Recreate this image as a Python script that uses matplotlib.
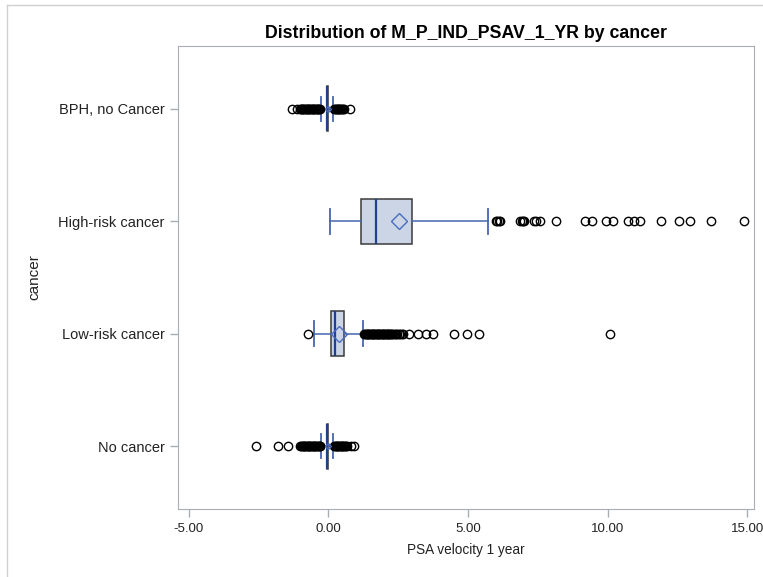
import matplotlib.pyplot as plt
from matplotlib.lines import Line2D

plt.rcParams['font.family'] = ['Liberation Sans', 'DejaVu Sans']

# categories, bottom to top
groups = ["No cancer", "Low-risk cancer", "High-risk cancer", "BPH, no Cancer"]

# summary stats
q1 = [-0.05, 0.10, 1.15, -0.05]
med = [-0.04, 0.25, 1.72, -0.04]
q3 = [-0.03, 0.57, 3.01, -0.03]
whislo = [-0.25, -0.50, 0.04, -0.25]
whishi = [0.17, 1.25, 5.73, 0.18]
means = [-0.03, 0.39, 2.54, -0.03]

fliers_no = [-2.58, -1.80, -1.46, -1.02, -0.98, -0.95, -0.92, -0.89, -0.86, -0.83,
             -0.80, -0.77, -0.74, -0.71, -0.68, -0.65, -0.62, -0.59, -0.56, -0.53,
             -0.50, -0.47, -0.44, -0.41, -0.38, -0.35, -0.32, -0.29,
             0.20, 0.23, 0.26, 0.29, 0.32, 0.35, 0.38, 0.41, 0.44, 0.47, 0.50,
             0.53, 0.56, 0.59, 0.62, 0.66, 0.80, 0.93]
fliers_low = [-0.75,
              1.28, 1.31, 1.34, 1.37, 1.40, 1.43, 1.46, 1.49, 1.52, 1.55, 1.58,
              1.61, 1.64, 1.67, 1.70, 1.73, 1.76, 1.79, 1.82, 1.85, 1.88, 1.91,
              1.94, 1.97, 2.00, 2.03, 2.06, 2.09, 2.12, 2.15, 2.18, 2.21, 2.25,
              2.29, 2.33, 2.38, 2.42, 2.47, 2.52, 2.57, 2.62, 2.68,
              2.87, 3.20, 3.48, 3.76, 4.50, 4.97, 5.40, 10.10]
fliers_high = [6.00, 6.05, 6.10, 6.15, 6.88, 6.92, 6.96, 7.00, 7.35, 7.45, 7.58,
               8.17, 9.18, 9.46, 9.96, 10.20, 10.75, 10.93, 11.15, 11.90,
               12.55, 12.97, 13.70, 14.90]
fliers_bph = [-1.32, -1.12, -1.03, -0.99, -0.96, -0.93, -0.90, -0.87, -0.84, -0.81,
              -0.78, -0.75, -0.72, -0.69, -0.66, -0.63, -0.60, -0.57, -0.54, -0.51,
              -0.48, -0.45, -0.42, -0.39, -0.36, -0.33, -0.30,
              0.21, 0.24, 0.27, 0.30, 0.33, 0.36, 0.39, 0.42, 0.45, 0.48, 0.51,
              0.54, 0.78]
fliers = [fliers_no, fliers_low, fliers_high, fliers_bph]

xticks = [-5, 0, 5, 10, 15]

stats = []
for i in range(len(groups)):
    stats.append(dict(label=groups[i], q1=q1[i], med=med[i], q3=q3[i],
                      whislo=whislo[i], whishi=whishi[i], mean=means[i],
                      fliers=fliers[i]))

fig = plt.figure(figsize=(7.63, 5.77), dpi=100)
ax = fig.add_axes([0.2333, 0.1179, 0.755, 0.8024])

blue = '#4466b0'
bp = ax.bxp(stats, positions=[1, 2, 3, 4], vert=False, widths=0.4,
            patch_artist=True, showmeans=True, capwidths=0.22,
            boxprops=dict(facecolor='#cbd5e6', edgecolor='#3a3a3a', linewidth=1.1),
            medianprops=dict(color='#1f3f8f', linewidth=1.6),
            whiskerprops=dict(color=blue, linewidth=1.1),
            capprops=dict(color=blue, linewidth=1.3),
            meanprops=dict(marker='D', markerfacecolor='none',
                           markeredgecolor='#4a6cc0', markersize=8, markeredgewidth=1.0),
            flierprops=dict(marker='o', markerfacecolor='none', markeredgecolor='black',
                            markersize=6, markeredgewidth=1.0))
# collapsed boxes: mean marker is barely visible
for i in (0, 3):
    bp['means'][i].set_markersize(3)

ax.set_xlim(-5.39, 15.25)
ax.set_ylim(0.44, 4.56)
ax.set_xticks(xticks)
ax.set_xticklabels(['%.2f' % v for v in xticks])
ax.set_yticks([1, 2, 3, 4])
ax.set_yticklabels(groups)

for s in ax.spines.values():
    s.set_color('#a9aeb4')
ax.tick_params(axis='both', colors='#a9aeb4', labelcolor='#222222',
               labelsize=9.5, length=6, width=1)
ax.tick_params(axis='y', labelsize=10.5)
ax.tick_params(axis='x', pad=4)

ax.set_title("Distribution of M_P_IND_PSAV_1_YR by cancer", fontsize=12.8,
             fontweight='bold', pad=6)
ax.set_xlabel("PSA velocity 1 year", fontsize=9.8, color='#222222', labelpad=6)
ax.set_ylabel("cancer", fontsize=11, color='#222222', labelpad=12)

# light outer frame
fig.add_artist(Line2D([7 / 763, 1], [1 - 5 / 577, 1 - 5 / 577], color='#d0d0d0', lw=1))
fig.add_artist(Line2D([7 / 763, 7 / 763], [0, 1 - 5 / 577], color='#d0d0d0', lw=1))

plt.savefig('out.png')
